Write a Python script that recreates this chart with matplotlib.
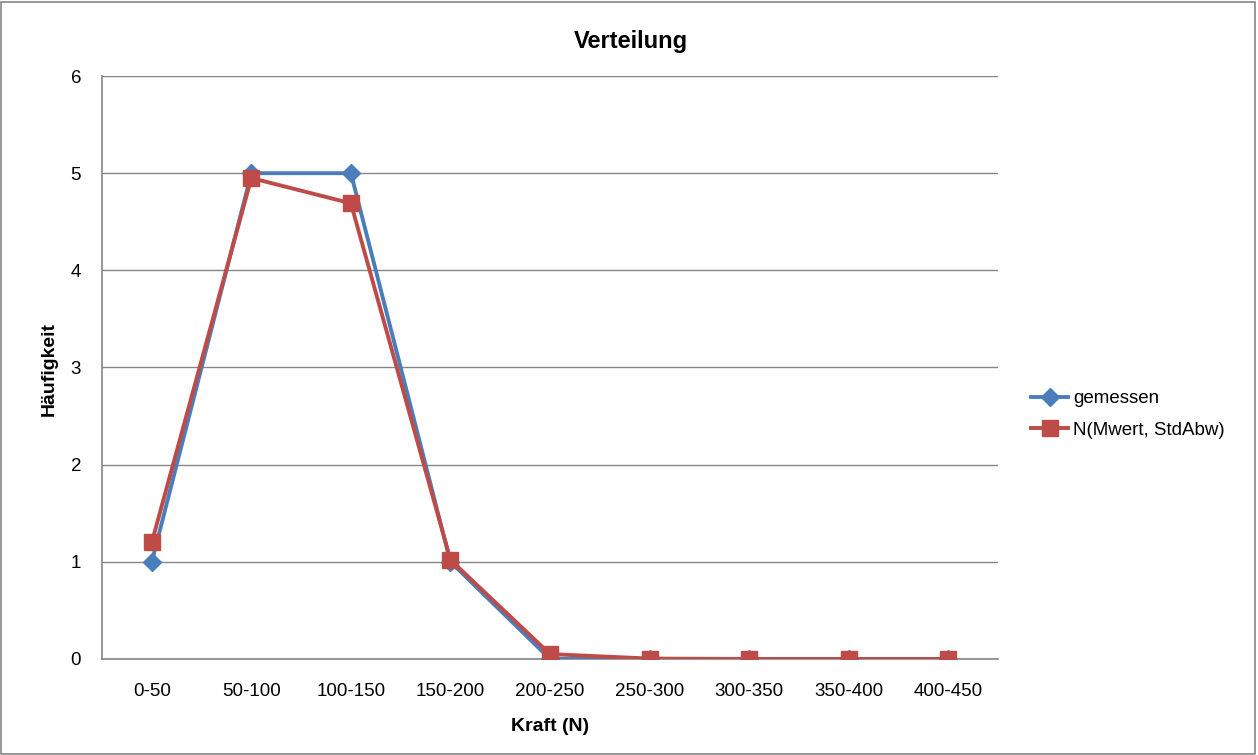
import numpy as np
import matplotlib.pyplot as plt
from matplotlib.patches import Rectangle

plt.rcParams['font.family'] = ['Liberation Sans', 'DejaVu Sans']

# data
kategorien = ["0-50", "50-100", "100-150", "150-200", "200-250",
              "250-300", "300-350", "350-400", "400-450"]
gemessen = [1, 5, 5, 1, 0, 0, 0, 0, 0]
normal = [1.2, 4.95, 4.69, 1.02, 0.05, 0.004, 0.0, 0.0, 0.0]

blau = '#4A7EBB'
rot = '#BE4B48'
grau = '#868686'

fig = plt.figure(figsize=(12.58, 7.55), dpi=100)
ax = fig.add_axes([0.0811, 0.1272, 0.7122, 0.7721])

x = np.arange(len(kategorien))
ax.plot(x, gemessen, color=blau, lw=2.8, marker='D', ms=9.5,
        label='gemessen', zorder=3)
ax.plot(x, normal, color=rot, lw=2.8, marker='s', ms=11,
        label='N(Mwert, StdAbw)', zorder=4)

ax.set_xlim(-0.5, len(kategorien) - 0.5)
ax.set_ylim(0, 6)
ax.set_yticks(range(0, 7))
ax.set_xticks(x)
ax.set_xticklabels(kategorien)
ax.tick_params(axis='both', length=0, labelsize=13.5)
ax.tick_params(axis='x', pad=17)
ax.tick_params(axis='y', pad=15)
ax.grid(axis='y', color=grau, lw=1)
ax.set_axisbelow(True)
for s in ['top', 'right']:
    ax.spines[s].set_visible(False)
for s in ['left', 'bottom']:
    ax.spines[s].set_color(grau)
    ax.spines[s].set_linewidth(1.2)

ax.set_xlabel('Kraft (N)', fontsize=14, fontweight='bold', labelpad=13)
ax.set_ylabel('Häufigkeit', fontsize=14, fontweight='bold')
ax.yaxis.set_label_coords(-0.049, 0.497)
fig.text(0.5016, 0.945, 'Verteilung', fontsize=17, fontweight='bold',
         ha='center', va='center')

ax.legend(loc='center left', bbox_to_anchor=(0.806, 0.451),
          bbox_transform=fig.transFigure, frameon=False, fontsize=13.5,
          handlelength=2.0, handletextpad=0.25, labelspacing=0.75)

fig.patches.append(Rectangle((0.001, 0.001), 0.997, 0.996, transform=fig.transFigure,
                             fill=False, edgecolor=grau, lw=1.2))

fig.savefig('out.png', dpi=100)
